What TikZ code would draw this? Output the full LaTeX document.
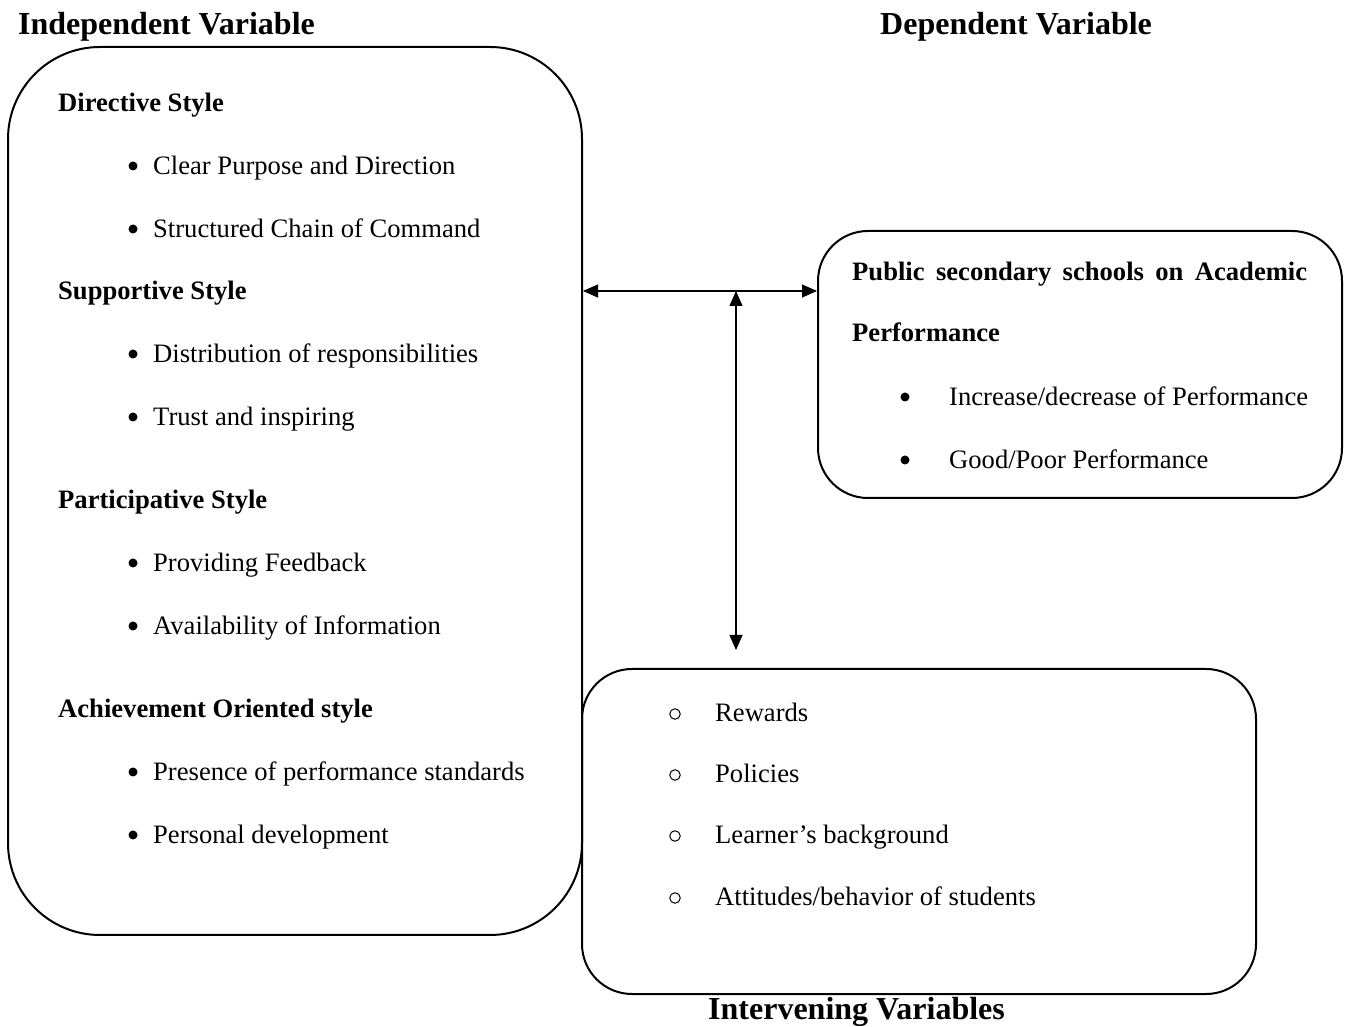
\documentclass[tikz,border=0pt]{standalone}
\usepackage{fontspec}
\setmainfont{Liberation Serif}
\usetikzlibrary{arrows.meta}
\begin{document}
\begin{tikzpicture}[x=1pt,y=1pt,
  box/.style={draw, line width=2pt, inner sep=0pt},
  txt/.style={anchor=base west, inner sep=0pt, font=\fontsize{26.6}{30}\selectfont},
  hd/.style={anchor=base west, inner sep=0pt, font=\fontsize{26.6}{30}\selectfont\bfseries},
  title/.style={anchor=base west, inner sep=0pt, font=\fontsize{32}{36}\selectfont\bfseries},
  bul/.style={circle, fill, inner sep=0pt, minimum size=9pt},
  obul/.style={circle, draw, line width=1pt, inner sep=0pt, minimum size=10.5pt},
  conn/.style={line width=1.2pt, {Triangle[length=15pt,width=13pt]}-{Triangle[length=15pt,width=13pt]}}]
\useasboundingbox (0,0) rectangle (1350,1026);
% boxes
\node[box, rounded corners=92pt, minimum width=574pt, minimum height=888pt] (L) at (295,535) {};
\node[box, rounded corners=50pt, minimum width=524pt, minimum height=267pt] (R) at (1080,661.5) {};
\node[box, rounded corners=50pt, minimum width=674pt, minimum height=325pt] (B) at (919,194.5) {};
% titles
\node[title] (t1) at (18,991) {Independent Variable};
\node[title] (t2) at (880,991) {Dependent Variable};
\node[title] (t3) at (708,6) {Intervening Variables};
% left box
\node[hd] (l1) at (58,914) {Directive Style};
\node[bul] (b1) at (133,860) {}; \node[txt] (l2) at (153,851) {Clear Purpose and Direction};
\node[bul] (b2) at (133,797) {}; \node[txt] (l3) at (153,788) {Structured Chain of Command};
\node[hd] (l4) at (58,726) {Supportive Style};
\node[bul] (b3) at (133,672) {}; \node[txt] (l5) at (153,663) {Distribution of responsibilities};
\node[bul] (b4) at (133,609) {}; \node[txt] (l6) at (153,600) {Trust and inspiring};
\node[hd] (l7) at (58,517) {Participative Style};
\node[bul] (b5) at (133,463) {}; \node[txt] (l8) at (153,454) {Providing Feedback};
\node[bul] (b6) at (133,400) {}; \node[txt] (l9) at (153,391) {Availability of Information};
\node[hd] (l10) at (58,308) {Achievement Oriented style};
\node[bul] (b7) at (133,254) {}; \node[txt] (l11) at (153,245) {Presence of performance standards};
\node[bul] (b8) at (133,191) {}; \node[txt] (l12) at (153,182) {Personal development};
% right box
\node[hd] (r1) at (852,745) {\makebox[455pt][s]{Public secondary schools on Academic}};
\node[hd] (r2) at (852,684) {Performance};
\node[bul] (rb1) at (905,629) {}; \node[txt] (r3) at (949,620) {Increase/decrease of Performance};
\node[bul] (rb2) at (905,566) {}; \node[txt] (r4) at (949,557) {Good/Poor Performance};
% bottom box
\node[obul] (o1) at (675,312) {}; \node[txt] (m1) at (715,304) {Rewards};
\node[obul] (o2) at (675,251) {}; \node[txt] (m2) at (715,243) {Policies};
\node[obul] (o3) at (675,190) {}; \node[txt] (m3) at (715,182) {Learner’s background};
\node[obul] (o4) at (675,128) {}; \node[txt] (m4) at (715,120) {Attitudes/behavior of students};
% connectors
\coordinate (vtop) at (736,735);
\coordinate (vbot) at (736,376);
\draw[conn] (L.east |- vtop) -- (R.west |- vtop);
\draw[conn] (vtop) -- (vbot);
\end{tikzpicture}
\end{document}
